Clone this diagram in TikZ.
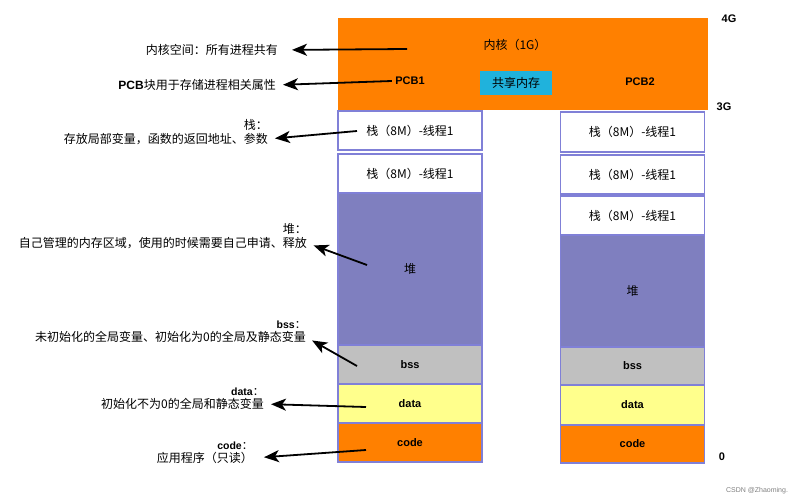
\documentclass[tikz,border=0pt]{standalone}
\usepackage{fontspec}
\setmainfont{Liberation Sans}
\newfontfamily\cjk{Noto Sans CJK SC}
\usetikzlibrary{arrows.meta}

\definecolor{kernelorange}{RGB}{255,128,0}
\definecolor{heapblue}{RGB}{127,127,191}
\definecolor{bssgray}{RGB}{192,192,192}
\definecolor{datayellow}{RGB}{255,255,140}
\definecolor{shmcyan}{RGB}{32,178,220}
\definecolor{segline}{RGB}{128,128,215}

\begin{document}
\begin{tikzpicture}[x=1pt,y=-1pt,
  seg/.style={draw=segline, line width=1.2pt, inner sep=0pt, minimum width=144pt},
  zh/.style={font=\cjk\fontsize{12}{14}\selectfont},
  en/.style={font=\bfseries\fontsize{11}{13}\selectfont},
  note/.style={zh, inner sep=0pt, anchor=east},
  head/.style={inner sep=0pt, anchor=south east, yshift=2.5pt},
  pointer/.style={-{Stealth[length=15pt,width=12pt,inset=4pt]}, line width=1.8pt, shorten >=7pt}]
\useasboundingbox (0,0) rectangle (794,500);

% Kernel:
\node [fill=kernelorange, minimum width=370pt, minimum height=92pt, inner sep=0pt] (kernel) at (523,64) {};
\node [zh] (kernTitle) at (515,45) {内核（1G）};
\node [en] (pcbL) at (410,81) {PCB1};
\node [en] (pcbR) at (640,82) {PCB2};
\node [zh, fill=shmcyan, minimum width=72pt, minimum height=24pt, inner sep=0pt] (shm) at (516,83) {共享内存};

% Left process
\node [seg, zh, fill=white, minimum height=39pt] (stkLa) at (410,130.5) {栈（8M）-线程1};
\node [seg, zh, fill=white, minimum height=39pt] (stkLb) at (410,173.5) {栈（8M）-线程1};
\node [seg, zh, fill=heapblue, minimum height=152pt] (heapL) at (410,269) {堆};
\node [seg, en, fill=bssgray, minimum height=39pt] (bssL) at (410,364.5) {bss};
\node [seg, en, fill=datayellow, minimum height=39pt] (dataL) at (410,403.5) {data};
\node [seg, en, fill=kernelorange, minimum height=39pt] (codeL) at (410,442.5) {code};

% Right process
\node [seg, zh, fill=white, minimum height=40pt] (stkRa) at (632.5,132) {栈（8M）-线程1};
\node [seg, zh, fill=white, minimum height=39pt] (stkRb) at (632.5,174.5) {栈（8M）-线程1};
\node [seg, zh, fill=white, minimum height=39pt] (stkRc) at (632.5,215.5) {栈（8M）-线程1};
\node [seg, zh, fill=heapblue, minimum height=112pt] (heapR) at (632.5,291) {堆};
\node [seg, en, fill=bssgray, minimum height=38pt] (bssR) at (632.5,366) {bss};
\node [seg, en, fill=datayellow, minimum height=40pt] (dataR) at (632.5,405) {data};
\node [seg, en, fill=kernelorange, minimum height=38pt] (codeR) at (632.5,444) {code};

% Addresses
\node [en] (addrTop) at (729,19) {4G};
\node [en] (addrMid) at (724,107) {3G};
\node [en] (addrLow) at (722,457) {0};

% Notes
\node [note] (kernNote) at (278,50) {内核空间：所有进程共有};
\node [note] (pcbNote) at (276,85) {{\rmfamily\bfseries PCB}块用于存储进程相关属性};
\node [note] (stackNote) at (268,139) {存放局部变量，函数的返回地址、参数};
\node [head, zh] (stackHead) at (stackNote.north east) {栈：};
\node [note] (heapNote) at (307,243) {自己管理的内存区域，使用的时候需要自己申请、释放};
\node [head, zh] (heapHead) at (heapNote.north east) {堆：};
\node [note] (bssNote) at (306,337) {未初始化的全局变量、初始化为0的全局及静态变量};
\node [head] (bssHead) at (bssNote.north east) {{\bfseries\fontsize{10.5}{12}\selectfont bss}{\cjk\fontsize{11}{12}\selectfont ：}};
\node [note] (dataNote) at (264,404) {初始化不为0的全局和静态变量};
\node [head] (dataHead) at (dataNote.north east) {{\bfseries\fontsize{10.5}{12}\selectfont data}{\cjk\fontsize{11}{12}\selectfont ：}};
\node [note] (codeNote) at (253,458) {应用程序（只读）};
\node [head] (codeHead) at (codeNote.north east) {{\bfseries\fontsize{10.5}{12}\selectfont code}{\cjk\fontsize{11}{12}\selectfont ：}};

% Arrows
\coordinate (kernTail) at (407,49);
\coordinate (stackTail) at (357,131);
\coordinate (heapTail) at (367,265);
\coordinate (bssTail) at (357,366);
\coordinate (dataTail) at (366,407);
\coordinate (codeTail) at (366,450);
\draw [pointer, shorten >=14pt] (kernTail) -- (kernNote.east);
\draw [pointer] (pcbL.west) -- (pcbNote.east);
\draw [pointer] (stackTail) -- (stackNote.east);
\draw [pointer] (heapTail) -- (heapNote.east);
\draw [pointer] (bssTail) -- (bssNote.east);
\draw [pointer] (dataTail) -- (dataNote.east);
\draw [pointer, shorten >=11pt] (codeTail) -- (codeNote.east);

\node [font=\fontsize{7}{8}\selectfont, text=gray] (mark) at (757,491) {CSDN @Zhaoming.};
\end{tikzpicture}
\end{document}
